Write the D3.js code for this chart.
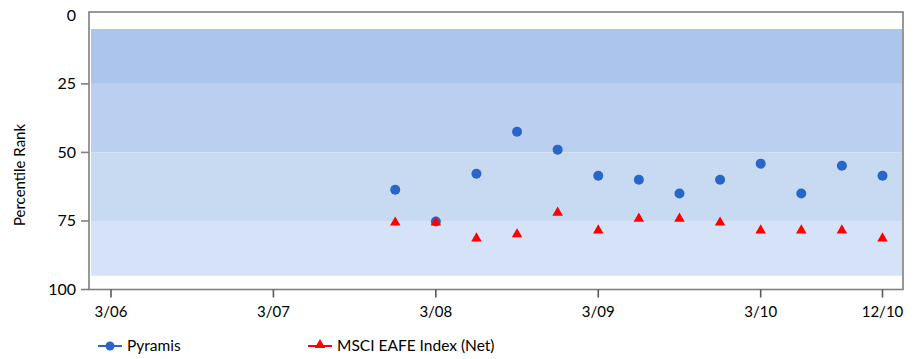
<!DOCTYPE html>
<html>
<head>
<meta charset="utf-8">
<script src="https://cdn.jsdelivr.net/npm/d3@7"></script>
<style>
  body { margin: 0; background: #ffffff; }
</style>
</head>
<body>
<div id="viz"></div>
<script>
// quarters as decimal years (3/06 = 2006.25 ... 12/10 = 2011.0)
const quarters = [2008.0, 2008.25, 2008.5, 2008.75, 2009.0, 2009.25, 2009.5, 2009.75, 2010.0, 2010.25, 2010.5, 2010.75, 2011.0]
const pyramis = [63.6, 75.2, 57.8, 42.5, 49.0, 58.5, 60.0, 65.0, 60.0, 54.1, 65.0, 54.9, 58.5]
const msci = [75.2, 75.2, 81.0, 79.5, 71.6, 78.1, 73.8, 73.8, 75.2, 78.1, 78.1, 78.1, 81.0]
const tickValues = [2006.25, 2007.25, 2008.25, 2009.25, 2010.25, 2011.0]
const tickLabels = ["3/06", "3/07", "3/08", "3/09", "3/10", "12/10"]
const yTicks = [0, 25, 50, 75, 100]
const bands = [[5, 25], [25, 50], [50, 75], [75, 95]]
const bandColors = ["#abc5ec", "#bbcff0", "#c8d9f2", "#d6e2f7"]

const width = 923
const height = 359
const font = "Lato, 'Open Sans', sans-serif"

const svg = d3.select("#viz").append("svg")
  .attr("width", width)
  .attr("height", height)

const plotLeft = 89, plotRight = 903, plotTop = 12, plotBottom = 289.5

const x = d3.scaleLinear()
  .domain([2006.25, 2011.0])
  .range([111, 882.5])

const y = d3.scaleLinear()
  .domain([0, 100])
  .range([15.3, 289.5])

// background bands
svg.selectAll("rect.band")
  .data(bands)
  .enter()
  .append("rect")
  .attr("class", "band")
  .attr("x", plotLeft + 2)
  .attr("width", plotRight - plotLeft - 3)
  .attr("y", d => y(d[0]))
  .attr("height", d => y(d[1]) - y(d[0]))
  .attr("fill", (d, i) => bandColors[i])

// frame
svg.append("rect")
  .attr("x", plotLeft)
  .attr("y", plotTop)
  .attr("width", plotRight - plotLeft)
  .attr("height", plotBottom - plotTop)
  .attr("fill", "none")
  .attr("stroke", "#7f7f7f")
  .attr("stroke-width", 1.6)

// y axis ticks
svg.selectAll("line.ytick")
  .data(yTicks.filter(d => d > 0))
  .enter()
  .append("line")
  .attr("x1", plotLeft - 8)
  .attr("x2", plotLeft)
  .attr("y1", d => y(d))
  .attr("y2", d => y(d))
  .attr("stroke", "#7f7f7f")
  .attr("stroke-width", 1.6)

svg.selectAll("text.ylab")
  .data(yTicks)
  .enter()
  .append("text")
  .attr("x", 76)
  .attr("y", d => y(d) + 5.5)
  .attr("text-anchor", "end")
  .attr("font-family", font)
  .attr("font-size", 16)
  .attr("fill", "#000")
  .text(d => d)

svg.append("text")
  .attr("transform", "translate(25,175) rotate(-90)")
  .attr("text-anchor", "middle")
  .attr("font-family", font)
  .attr("font-size", 15)
  .attr("fill", "#000")
  .text("Percentile Rank")

// x axis ticks
svg.selectAll("line.xtick")
  .data(tickValues)
  .enter()
  .append("line")
  .attr("x1", d => x(d))
  .attr("x2", d => x(d))
  .attr("y1", plotBottom)
  .attr("y2", plotBottom + 8)
  .attr("stroke", "#595959")
  .attr("stroke-width", 1.6)

svg.selectAll("text.xlab")
  .data(tickValues)
  .enter()
  .append("text")
  .attr("x", d => x(d))
  .attr("y", 317)
  .attr("text-anchor", "middle")
  .attr("font-family", font)
  .attr("font-size", 15)
  .attr("fill", "#000")
  .text((d, i) => tickLabels[i])

const blue = "#2866c8"
const red = "#ff0000"
const tri = d3.symbol().type(d3.symbolTriangle).size(48)

// pyramis
svg.selectAll("circle.pyr")
  .data(pyramis)
  .enter()
  .append("circle")
  .attr("cx", (d, i) => x(quarters[i]))
  .attr("cy", d => y(d))
  .attr("r", 5)
  .attr("fill", blue)

// msci
svg.selectAll("path.msci")
  .data(msci)
  .enter()
  .append("path")
  .attr("d", tri)
  .attr("transform", (d, i) => "translate(" + x(quarters[i]) + "," + (y(d) + 1) + ")")
  .attr("fill", red)

// legend
const legendY = 346
svg.append("line")
  .attr("x1", 98).attr("x2", 122)
  .attr("y1", legendY).attr("y2", legendY)
  .attr("stroke", blue).attr("stroke-width", 2)
svg.append("circle")
  .attr("cx", 110).attr("cy", legendY).attr("r", 4.5)
  .attr("fill", blue)
svg.append("text")
  .attr("x", 127).attr("y", legendY + 5)
  .attr("font-family", font).attr("font-size", 15.5)
  .text("Pyramis")

svg.append("line")
  .attr("x1", 308).attr("x2", 332)
  .attr("y1", legendY).attr("y2", legendY)
  .attr("stroke", red).attr("stroke-width", 2)
svg.append("path")
  .attr("d", tri)
  .attr("transform", "translate(320," + (legendY - 1) + ")")
  .attr("fill", red)
svg.append("text")
  .attr("x", 337).attr("y", legendY + 5)
  .attr("font-family", font).attr("font-size", 15.5)
  .text("MSCI EAFE Index (Net)")
</script>
</body>
</html>
